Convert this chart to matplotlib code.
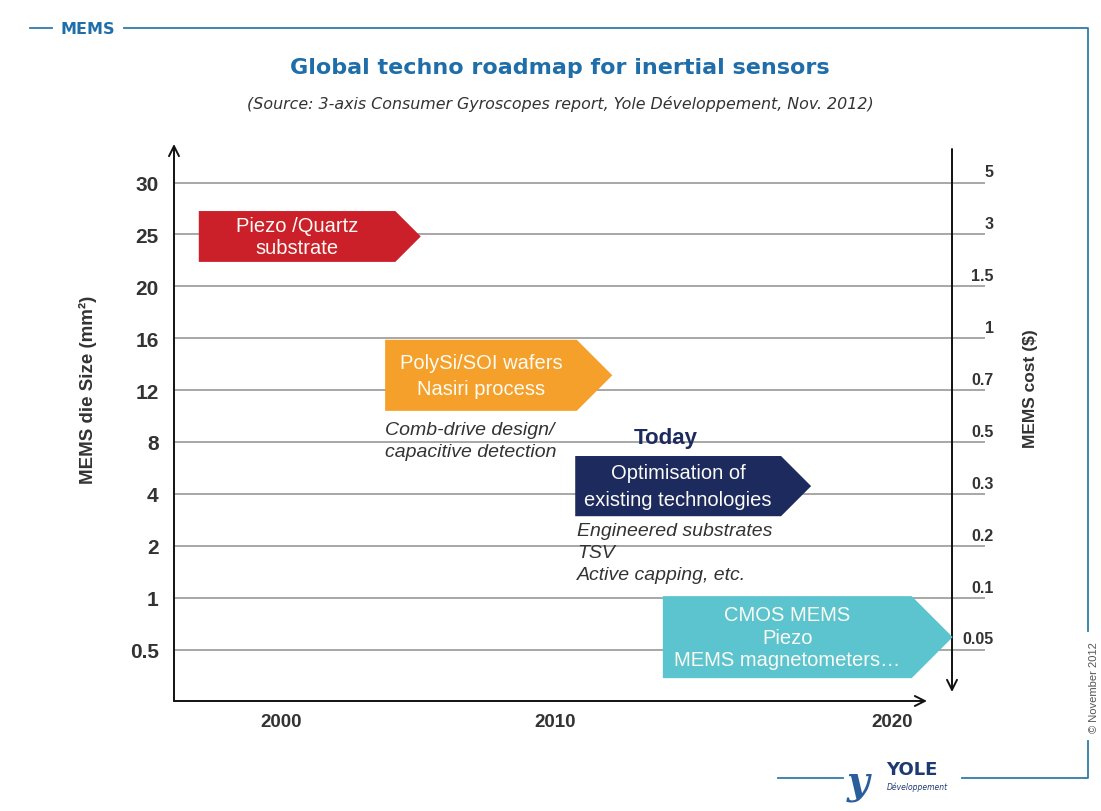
import numpy as np
import matplotlib
matplotlib.use("Agg")
import matplotlib.pyplot as plt
from matplotlib.patches import Polygon
import matplotlib.transforms as mtransforms

# --- data -------------------------------------------------------------------
size_levels = ["30", "25", "20", "16", "12", "8", "4", "2", "1", "0.5"]      # MEMS die size (mm²)
cost_levels = ["5", "3", "1.5", "1", "0.7", "0.5", "0.3", "0.2", "0.1", "0.05"]  # MEMS cost ($)
years = [2000, 2010, 2020]

tech_labels = ["Piezo /Quartz\nsubstrate",
               "PolySi/SOI wafers\nNasiri process",
               "Optimisation of\nexisting technologies",
               "CMOS MEMS\nPiezo\nMEMS magnetometers…"]
tech_start = [1997.0, 2003.8, 2010.6, 2013.2]      # year
tech_end = [2005.1, 2011.7, 2017.6, 2021.8]        # year (tip of arrow)
tech_top = [0.55, 3.03, 5.27, 7.97]                # position on size-level axis
tech_bottom = [1.53, 4.40, 6.43, 9.55]
tech_colors = ["#cb1f2a", "#f5a02a", "#1d2a5e", "#5cc4ce"]
tech_linesp = [1.22, 1.45, 1.55, 1.22]

notes = ["Comb-drive design/\ncapacitive detection",
         "Engineered substrates\nTSV\nActive capping, etc."]
note_year = [2003.8, 2010.65]
note_level = [4.6, 6.55]

today_year, today_level = 2013.3, 4.92

# piecewise year -> picture position (the year axis is not evenly spaced in the source)
yr_anchor = [1980, 2000, 2010, 2020, 2040]
px_anchor = [281 - 2 * 274, 281, 555, 892, 892 + 2 * 337]

BLUE = "#1f6ea9"
GREY = "#333333"
W, H = 1101, 812

fig = plt.figure(figsize=(W / 100, H / 100), dpi=100)

# background layer in pixel units for the page frame
bg = fig.add_axes([0, 0, 1, 1], zorder=0)
bg.set_xlim(0, W); bg.set_ylim(H, 0); bg.axis("off")
fc = "#2f7ca6"
bg.plot([30, 52], [29, 29], color=fc, lw=1.3)
bg.plot([124, 1088, 1088], [29, 29, 632], color=fc, lw=1.3)
bg.plot([1088, 1088, 962], [742, 779, 779], color=fc, lw=1.3)
bg.plot([778, 843], [779, 779], color=fc, lw=1.3)
bg.text(88, 29, "MEMS", color=BLUE, fontsize=11.5, fontweight="bold", ha="center", va="center",
        family="DejaVu Sans")
bg.text(560, 68, "Global techno roadmap for inertial sensors", color=BLUE, fontsize=16,
        fontweight="bold", ha="center", va="center", family="DejaVu Sans")
bg.text(560, 104, "(Source: 3-axis Consumer Gyroscopes report, Yole Développement, Nov. 2012)",
        color=GREY, fontsize=11.4, style="italic", ha="center", va="center", family="DejaVu Sans")
bg.text(1094, 688, "© November 2012", rotation=90, color="#555555", fontsize=8,
        ha="center", va="center", family="Liberation Sans")
bg.text(88, 390, "MEMS die Size (mm²)", rotation=90, color=GREY, fontsize=13.5,
        fontweight="bold", ha="center", va="center", family="Liberation Sans")
bg.text(1031, 389, "MEMS cost ($)", rotation=90, color=GREY, fontsize=12.5,
        fontweight="bold", ha="center", va="center", family="Liberation Sans")
# logo
bg.text(858, 783, "y", color="#2a5d9c", fontsize=28, style="italic", fontweight="bold",
        ha="center", va="center", family="DejaVu Serif")
bg.text(912, 770, "YOLE", color="#1e3a70", fontsize=13, fontweight="bold", ha="center",
        va="center", family="DejaVu Sans")
bg.text(917, 787, "Développement", color="#1e3a70", fontsize=5.5, style="italic",
        ha="center", va="center", family="DejaVu Sans")

# --- main chart ---------------------------------------------------------------
L, R, T, B = 174, 985, 145, 702
ax = fig.add_axes([L / W, 1 - B / H, (R - L) / W, (B - T) / H], zorder=2)
ax.patch.set_alpha(0)

fwd = lambda x: np.interp(x, yr_anchor, px_anchor)
inv = lambda p: np.interp(p, px_anchor, yr_anchor)
ax.set_xscale("function", functions=(fwd, inv))
ax.set_xlim(inv(L), inv(R))
y0px, ystep = 183.5, 51.9
ax.set_ylim((B - y0px) / ystep, (T - y0px) / ystep)

for s in ax.spines.values():
    s.set_visible(False)

idx = np.arange(len(size_levels))
for i in idx:
    ax.axhline(i, color="#8f8f8f", lw=1.1, zorder=1)

ax.set_yticks(idx, size_levels)
ax.set_xticks(years, [str(y) for y in years])
ax.tick_params(axis="y", length=0, pad=11, labelsize=15, labelcolor=GREY)
ax.tick_params(axis="x", length=0, pad=9, labelsize=13.5, labelcolor=GREY)
for lab in ax.get_yticklabels() + ax.get_xticklabels():
    lab.set_fontweight("bold"); lab.set_family("Liberation Sans")
ax.xaxis.set_minor_locator(matplotlib.ticker.NullLocator())

trans_r = mtransforms.blended_transform_factory(ax.transAxes, ax.transData)
for i, c in zip(idx, cost_levels):
    ax.text(1.011, i - 0.06, c, transform=trans_r, ha="right", va="bottom", fontsize=11.5,
            fontweight="bold", color=GREY, family="Liberation Sans")

# axis arrows
arr = dict(arrowstyle="->", lw=1.4, color="#111111", mutation_scale=18, shrinkA=0, shrinkB=0)
ax.annotate("", xy=(0, 1), xytext=(0, 0), xycoords="axes fraction", arrowprops=arr)
ax.annotate("", xy=((927 - L) / (R - L), 0), xytext=(0, 0), xycoords="axes fraction",
            arrowprops=arr)
xr = (952 - L) / (R - L)
ax.annotate("", xy=(xr, (B - 693) / (B - T)), xytext=(xr, (B - 150) / (B - T)),
            xycoords="axes fraction", arrowprops=arr)

# technology arrows
for lab, s, e, t, b, col, ls in zip(tech_labels, tech_start, tech_end, tech_top, tech_bottom,
                                    tech_colors, tech_linesp):
    (x0, ya), (x1, yb) = ax.transData.transform([(s, t), (e, b)])
    tip = 0.5 * abs(ya - yb)
    pts = ax.transData.inverted().transform(
        [(x0, ya), (x1 - tip, ya), (x1, (ya + yb) / 2), (x1 - tip, yb), (x0, yb)])
    ax.add_patch(Polygon(pts, closed=True, fc=col, ec="none", zorder=3))
    cx, cy = ax.transData.inverted().transform(((x0 + x1 - tip) / 2, (ya + yb) / 2))
    ax.text(cx, cy, lab, color="#fbfbf5", fontsize=14.5, ha="center", va="center",
            multialignment="center", linespacing=ls, family="Liberation Sans", zorder=4)

for txt, x, y in zip(notes, note_year, note_level):
    ax.text(x, y, txt, fontsize=14, style="italic", color=GREY, ha="left", va="top",
            linespacing=1.38, family="Liberation Sans", zorder=4)

ax.text(today_year, today_level, "Today", fontsize=16, fontweight="bold", color="#1d2a5e",
        ha="center", va="center", family="Liberation Sans", zorder=4)

fig.savefig("out.png", dpi=100)
